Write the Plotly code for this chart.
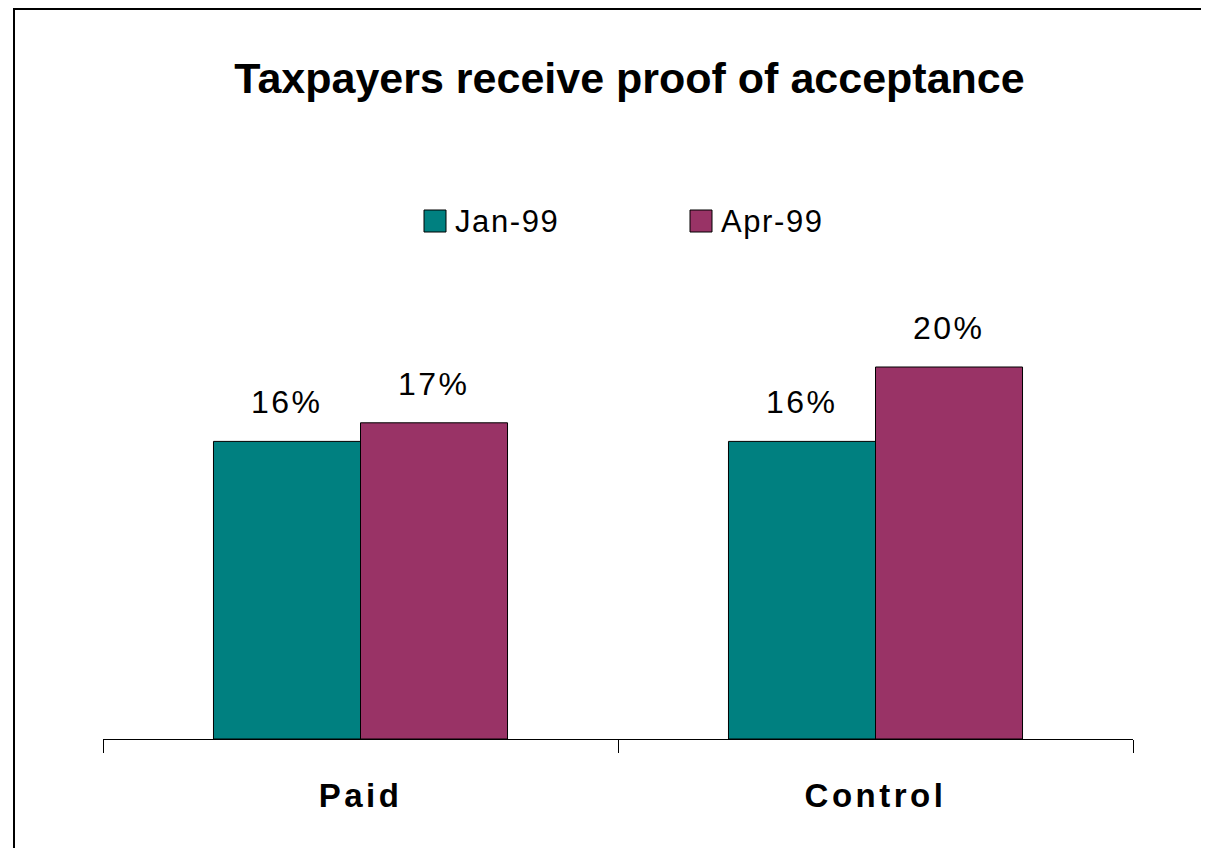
import plotly.graph_objects as go

categories = ["Paid", "Control"]
series_names = ["Jan-99", "Apr-99"]
jan_99 = [16, 16]
apr_99 = [17, 20]
colors = ["#008080", "#993366"]

FONT = "Arial, Liberation Sans, sans-serif"
bargap = 0.429
bar_w = (1 - bargap) / 2

# the page body adds an 8px offset, so the plot box is set in figure pixels
W, H = 1201, 840
L, R, T, B = 95, 76, 142, 109
plot_w = W - L - R
plot_h = H - T - B


def px_x(x):  # window px -> paper x
    return (x - 8 - L) / plot_w


def px_y(y):  # window px -> paper y
    return (H - B - (y - 8)) / plot_h


def spaced(txt, sp):
    return f"<span style='letter-spacing:{sp}px'>{txt}</span>"


fig = go.Figure()
for name, vals, col in zip(series_names, [jan_99, apr_99], colors):
    fig.add_trace(
        go.Bar(
            x=categories,
            y=vals,
            name=name,
            marker=dict(color=col, line=dict(color="black", width=1)),
            showlegend=False,
        )
    )

# value labels above each bar
for k, vals in enumerate([jan_99, apr_99]):
    offset = (k - 0.5) * bar_w
    for i, v in enumerate(vals):
        fig.add_annotation(
            x=i + offset, y=v, text=spaced(f"{v}%", 2.5), showarrow=False,
            yanchor="bottom", yshift=19,
            font=dict(family=FONT, size=32, color="black"),
        )

# legend drawn as swatches + labels
legend_x = [424, 690]
for name, col, lx in zip(series_names, colors, legend_x):
    fig.add_shape(
        type="rect", xref="paper", yref="paper",
        x0=px_x(lx), x1=px_x(lx + 22),
        y0=px_y(232), y1=px_y(210),
        fillcolor=col, line=dict(color="black", width=1),
    )
    fig.add_annotation(
        xref="paper", yref="paper",
        x=px_x(lx + 29), y=px_y(221),
        text=spaced(name, 1.6), showarrow=False, xanchor="left", yanchor="middle",
        font=dict(family=FONT, size=31, color="black"),
    )

# outer frame: only the left and top edges are inside the picture
frame = dict(type="line", xref="paper", yref="paper", line=dict(color="black", width=2))
fig.add_shape(x0=px_x(14), x1=px_x(14), y0=px_y(1000), y1=px_y(9), **frame)
fig.add_shape(x0=px_x(13), x1=px_x(1400), y0=px_y(9), y1=px_y(9), **frame)

fig.update_layout(
    width=W,
    height=H,
    margin=dict(l=L, r=R, t=T, b=B),
    paper_bgcolor="white",
    plot_bgcolor="white",
    barmode="group",
    bargap=bargap,
    bargroupgap=0,
    title=dict(
        text="<b>Taxpayers receive proof of acceptance</b>",
        xref="container", x=(629.5 - 8) / W, xanchor="center",
        yref="container", y=1 - (78 - 8) / H, yanchor="middle",
        font=dict(family=FONT, size=43, color="black"),
    ),
    xaxis=dict(
        type="category",
        showline=True, linecolor="black", linewidth=1,
        ticks="outside", tickson="boundaries", ticklen=13,
        tickcolor="black", tickwidth=1,
        tickfont=dict(family=FONT, size=33, color="black"),
        tickvals=categories,
        ticktext=[spaced(f"<b>{c}</b>", 3.5) for c in categories],
        ticklabelstandoff=27,
        showgrid=False,
    ),
    yaxis=dict(range=[0, plot_h / 18.6], visible=False, showgrid=False),
)

fig.write_html("out.html")
